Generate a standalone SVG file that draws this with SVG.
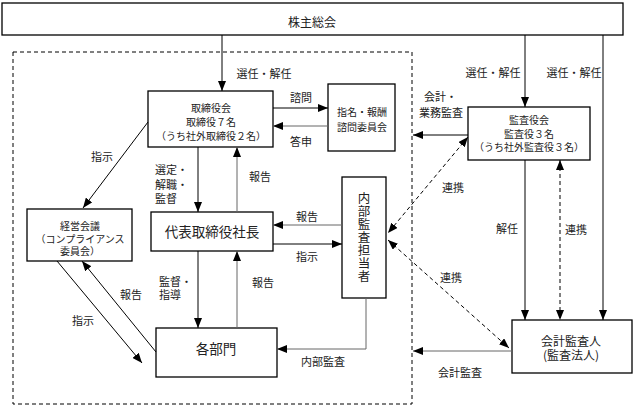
<svg xmlns="http://www.w3.org/2000/svg" width="636" height="409" viewBox="0 0 636 409">
<style>
  .box{fill:#fff;stroke:#000;stroke-width:1.3}
  .t{font-family:"Noto Sans CJK JP","Noto Sans",sans-serif;fill:#222;text-anchor:middle}
  .s{font-size:10px}
  .m{font-size:11px}
  .l{font-size:13.5px}
  .st{text-anchor:start}
  .ln{fill:none;stroke:#000;stroke-width:1}
  .g{stroke:#666}
  .d{stroke-dasharray:4 3}
  .v{writing-mode:vertical-rl;text-orientation:upright;font-size:12.5px;letter-spacing:0.5px}
</style>
<defs>
  <marker id="ah" markerUnits="userSpaceOnUse" markerWidth="10" markerHeight="8" refX="10" refY="4" orient="auto-start-reverse">
    <path d="M0,0 L10,4 L0,8 z" fill="#000"/>
  </marker>
</defs>
<rect width="636" height="409" fill="#fff"/>
<rect x="13" y="52" width="399" height="352" fill="none" stroke="#000" stroke-width="1" stroke-dasharray="4 3"/>

<g id="kabunushi"><rect class="box" x="2" y="3" width="621" height="32"/><text class="t" x="312" y="27" style="font-size:12px">株主総会</text></g>

<g id="torishimariyakukai"><rect class="box" x="148" y="91" width="125" height="56"/>
<text class="t s" x="211" y="112"><tspan x="211">取締役会</tspan><tspan x="211" dy="14">取締役７名</tspan><tspan x="211" dy="14">（うち社外取締役２名）</tspan></text></g>

<g id="shimei"><rect class="box" x="328" y="84" width="67" height="67"/>
<text class="t s" x="362" y="116"><tspan x="362">指名・報酬</tspan><tspan x="362" dy="15">諮問委員会</tspan></text></g>

<g id="kansayakukai"><rect class="box" x="468" y="107" width="122" height="53"/>
<text class="t s" x="529" y="124"><tspan x="529">監査役会</tspan><tspan x="529" dy="13.5">監査役３名</tspan><tspan x="529" dy="13.5">（うち社外監査役３名）</tspan></text></g>

<g id="keiei"><rect class="box" x="27" y="209" width="105" height="52"/>
<text class="t s" x="80" y="230"><tspan x="80">経営会議</tspan><tspan x="80" dy="12.5">（コンプライアンス</tspan><tspan x="80" dy="12.5">委員会）</tspan></text></g>

<g id="daihyo"><rect class="box" x="151" y="212" width="122" height="39"/>
<text class="t l" x="212" y="237">代表取締役社長</text></g>

<g id="kakubumon"><rect class="box" x="156" y="328" width="121" height="49"/>
<text class="t l" x="216" y="354">各部門</text></g>

<g id="naibu"><rect class="box" x="342" y="177" width="44" height="121"/>
<text class="t v" x="364" y="237">内部監査担当者</text></g>

<g id="kaikei"><rect class="box" x="512" y="320" width="120" height="53"/>
<text class="t" x="571" y="346" style="font-size:12px"><tspan x="571">会計監査人</tspan><tspan x="571" dy="14">(監査法人)</tspan></text></g>

<g id="connectors">
  <path class="ln" d="M222,35 V91" marker-end="url(#ah)"/>
  <path class="ln" d="M525,35 V107" marker-end="url(#ah)"/>
  <path class="ln" d="M603,35 V320" marker-end="url(#ah)"/>
  <path class="ln" d="M273,108 H328" marker-end="url(#ah)"/>
  <path class="ln g" d="M328,126 H273" marker-end="url(#ah)"/>
  <path class="ln" d="M148,122 L83,208" marker-end="url(#ah)"/>
  <path class="ln" d="M198,147 V212" marker-end="url(#ah)"/>
  <path class="ln g" d="M237,212 V147" marker-end="url(#ah)"/>
  <path class="ln g" d="M342,225 H273" marker-end="url(#ah)"/>
  <path class="ln" d="M273,244 H342" marker-end="url(#ah)"/>
  <path class="ln" d="M198,251 V328" marker-end="url(#ah)"/>
  <path class="ln g" d="M237,328 V251" marker-end="url(#ah)"/>
  <path class="ln" d="M57,261 L142,363" marker-end="url(#ah)"/>
  <path class="ln" d="M156,352 L82,261" marker-end="url(#ah)"/>
  <path class="ln g" d="M366,298 V349 H277" marker-end="url(#ah)"/>
  <path class="ln" d="M468,135 H413" marker-end="url(#ah)"/>
  <path class="ln d" d="M468,137 L388,233" marker-start="url(#ah)" marker-end="url(#ah)"/>
  <path class="ln d" d="M388,240 L509,348" marker-start="url(#ah)" marker-end="url(#ah)"/>
  <path class="ln" d="M525,160 V320" marker-end="url(#ah)"/>
  <path class="ln d" d="M560,160 V320" marker-start="url(#ah)" marker-end="url(#ah)"/>
  <path class="ln g" d="M512,351 H413" marker-end="url(#ah)"/>
</g>

<g id="labels">
  <text class="t m" x="264" y="78">選任・解任</text>
  <text class="t m" x="493" y="77">選任・解任</text>
  <text class="t m" x="574" y="77">選任・解任</text>
  <text class="t m" x="301" y="102">諮問</text>
  <text class="t m" x="301" y="146">答申</text>
  <text class="t m st" x="424" y="101"><tspan x="424">会計・</tspan><tspan x="419" dy="16">業務監査</tspan></text>
  <text class="t m" x="102" y="161">指示</text>
  <text class="t m st" x="155" y="174"><tspan x="155">選定・</tspan><tspan x="155" dy="14.5">解職・</tspan><tspan x="155" dy="14.5">監督</tspan></text>
  <text class="t m" x="260" y="181">報告</text>
  <text class="t m" x="307" y="221">報告</text>
  <text class="t m" x="307" y="261">指示</text>
  <text class="t m" x="453" y="192">連携</text>
  <text class="t m" x="507" y="233">解任</text>
  <text class="t m" x="576" y="234">連携</text>
  <text class="t m st" x="159" y="286"><tspan x="159">監督・</tspan><tspan x="159" dy="13">指導</tspan></text>
  <text class="t m" x="263" y="287">報告</text>
  <text class="t m" x="131" y="299">報告</text>
  <text class="t m" x="83" y="325">指示</text>
  <text class="t m" x="451" y="282">連携</text>
  <text class="t m" x="323" y="366">内部監査</text>
  <text class="t m" x="460" y="377">会計監査</text>
</g>
</svg>
